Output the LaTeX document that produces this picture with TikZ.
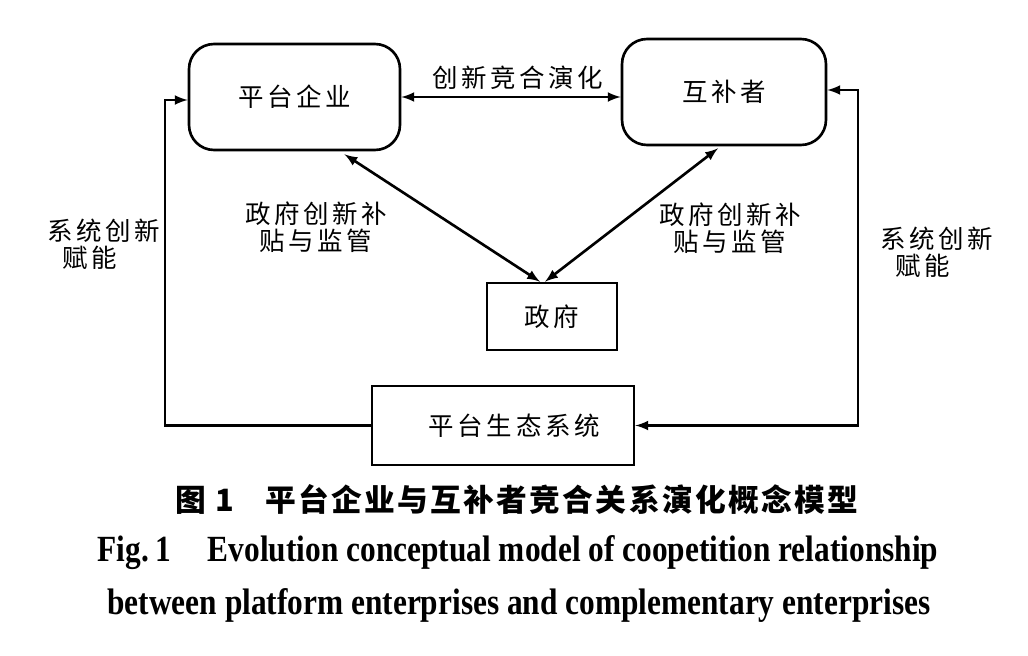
\documentclass[tikz,border=0pt]{standalone}
\usepackage{fontspec}
\setmainfont{Liberation Serif}
\newfontfamily\cjk{Noto Sans CJK SC}[LetterSpace=14]
\newfontfamily\cjkcap{Noto Sans CJK SC}[LetterSpace=7.5]
\newfontfamily\capfont{Liberation Serif}[FakeStretch=0.85]

\tikzset{
    txt/.style={font=\cjk\fontsize{14.5}{15.5}\selectfont,inner sep=0pt},
    roundbox/.style={draw,line width=1.5pt,rounded corners=0.5cm,minimum height=2.12cm},
    plainbox/.style={draw,line width=1.5pt},
}

\begin{document}
\begin{tikzpicture}[x=0.02cm,y=-0.02cm,line width=1.5pt,>=latex]
    \useasboundingbox (0,0) rectangle (1028,656);

    % boxes
    \node[roundbox,txt,minimum width=4.22cm] (pe) at (294.5,97) {平台企业};
    \node[roundbox,txt,minimum width=4.08cm] (hb) at (724,92) {互补者};
    \node[plainbox,txt,minimum width=2.6cm,minimum height=1.34cm] (gov) at (552,316.5) {政府};
    \node[plainbox,txt,minimum width=5.24cm,minimum height=1.58cm] (eco) at (503,425.5) {\hspace{0.45cm}平台生态系统};

    % links
    \draw[<->] (pe.east) -- (hb.west |- pe.east);
    \node[txt] (evo) at (518,78) {创新竞合演化};

    \draw[<->] ([xshift=1cm,yshift=-0.06cm]pe.south) -- ([xshift=-0.24cm]gov.north);
    \draw[<->] ([xshift=-0.12cm,yshift=-0.04cm]hb.south) -- ([xshift=-0.14cm]gov.north);
    \node[txt,align=center] (subl) at (316,227) {政府创新补\\贴与监管};
    \node[txt,align=center] (subr) at (730,228) {政府创新补\\贴与监管};

    % loops through the ecosystem
    \coordinate (lc) at (165,100);
    \coordinate (rc) at (858,90);
    \draw[->] (eco.west) -| (lc) -- (lc -| pe.west);
    \draw[<->] (rc -| hb.east) -- (rc) |- (eco.east);
    \node[txt,align=left,anchor=west] (enl) at (46,244) {系统创新\\\hspace{0.3cm}赋能};
    \node[txt,align=left,anchor=west] (enr) at (879,252) {系统创新\\\hspace{0.3cm}赋能};

    % caption
    \node[font=\cjkcap\bfseries\fontsize{17.5}{20}\selectfont,inner sep=0pt] (capcn) at (517,500) {图 1\quad 平台企业与互补者竞合关系演化概念模型};
    \node[font=\capfont\bfseries\fontsize{21}{24}\selectfont,inner sep=0pt] (capen1) at (518,553) {Fig.\,1\quad Evolution conceptual model of coopetition relationship};
    \node[font=\capfont\bfseries\fontsize{21}{24}\selectfont,inner sep=0pt] (capen2) at (519,605) {between platform enterprises and complementary enterprises};
\end{tikzpicture}
\end{document}
